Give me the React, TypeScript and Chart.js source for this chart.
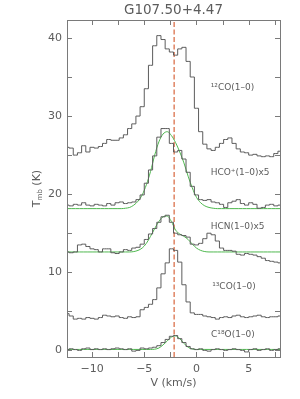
import React, { useEffect, useRef } from "react";
import { Chart, registerables } from "chart.js";
Chart.register(...registerables);

// Velocity channels (km/s)
const V = [-12.4, -12.0, -11.6, -11.2, -10.8, -10.4, -10.0, -9.6, -9.2, -8.8, -8.4, -8.0, -7.6, -7.2, -6.8, -6.4, -6.0, -5.6, -5.2, -4.8, -4.4, -4.0, -3.6, -3.2, -2.8, -2.4, -2.0, -1.6, -1.2, -0.8, -0.4, 0.0, 0.4, 0.8, 1.2, 1.6, 2.0, 2.4, 2.8, 3.2, 3.6, 4.0, 4.4, 4.8, 5.2, 5.6, 6.0, 6.4, 6.8, 7.2, 7.6, 8.0];

const CO12 = [26.0, 25.9, 25.0, 25.3, 26.2, 25.4, 26.0, 25.9, 26.1, 26.5, 27.0, 26.9, 26.9, 27.2, 27.6, 28.4, 29.0, 30.0, 31.2, 33.5, 36.5, 39.0, 40.3, 39.8, 38.6, 38.2, 37.8, 38.6, 38.8, 37.0, 35.0, 31.0, 28.0, 26.4, 25.8, 25.6, 26.0, 26.5, 27.0, 27.2, 26.5, 25.8, 25.4, 25.3, 25.0, 25.1, 24.9, 24.8, 24.9, 24.8, 25.2, 25.5];

const HCOP = [18.6, 18.5, 18.7, 18.6, 18.9, 18.6, 18.5, 18.7, 18.6, 18.5, 18.8, 18.6, 18.9, 19.0, 18.8, 18.9, 19.0, 19.3, 19.9, 21.4, 23.1, 24.9, 27.3, 28.4, 28.4, 26.5, 25.4, 25.6, 24.5, 22.8, 21.0, 19.9, 19.3, 19.2, 19.3, 19.0, 18.9, 18.7, 18.3, 18.9, 19.1, 19.3, 18.8, 18.6, 18.9, 18.7, 18.2, 18.3, 18.6, 18.7, 18.5, 18.6];

const HCOP_FIT = [18.15, 18.15, 18.15, 18.15, 18.15, 18.15, 18.15, 18.15, 18.15, 18.15, 18.15, 18.15, 18.15, 18.15, 18.2, 18.3, 18.6, 19.1, 19.9, 21.2, 22.9, 25.0, 26.7, 27.7, 28.0, 27.5, 26.6, 25.4, 24.0, 22.3, 20.8, 19.6, 18.9, 18.5, 18.3, 18.2, 18.15, 18.15, 18.15, 18.15, 18.15, 18.15, 18.15, 18.15, 18.15, 18.15, 18.15, 18.15, 18.15, 18.15, 18.15, 18.15];

const HCN = [12.6, 12.5, 12.6, 13.5, 13.6, 13.3, 13.0, 12.9, 12.6, 13.0, 13.0, 12.5, 12.4, 12.6, 12.9, 12.8, 13.1, 13.2, 13.6, 14.2, 14.9, 15.6, 16.4, 17.1, 17.3, 16.4, 15.0, 14.8, 14.7, 14.5, 13.6, 13.5, 13.7, 14.3, 15.0, 14.8, 14.0, 13.1, 12.8, 12.8, 12.7, 12.3, 12.2, 12.4, 12.3, 12.2, 12.0, 11.8, 11.5, 11.4, 11.3, 11.2];

const HCN_FIT = [12.6, 12.6, 12.6, 12.6, 12.6, 12.6, 12.6, 12.6, 12.6, 12.6, 12.6, 12.6, 12.6, 12.6, 12.6, 12.6, 12.65, 12.8, 13.1, 13.7, 14.6, 15.6, 16.5, 17.1, 17.2, 16.5, 15.4, 14.9, 14.6, 14.2, 13.6, 13.1, 12.8, 12.65, 12.6, 12.6, 12.6, 12.6, 12.6, 12.6, 12.6, 12.6, 12.6, 12.6, 12.6, 12.6, 12.6, 12.6, 12.6, 12.6, 12.6, 12.6];

const CO13 = [4.7, 4.4, 4.0, 4.1, 4.0, 4.2, 4.1, 4.0, 4.2, 4.5, 4.4, 4.3, 4.4, 4.2, 4.1, 4.3, 4.2, 4.3, 5.2, 5.5, 5.9, 6.5, 8.0, 9.8, 11.2, 13.0, 12.8, 11.3, 8.4, 6.2, 4.8, 4.6, 4.6, 4.4, 4.3, 4.2, 4.0, 4.2, 4.3, 4.2, 4.4, 4.5, 4.3, 4.2, 4.3, 4.4, 4.5, 4.3, 4.2, 4.3, 4.3, 4.4];

const C18O = [0.1, 0.2, 0.1, 0.0, 0.2, 0.3, 0.1, 0.2, 0.1, 0.2, 0.1, 0.2, 0.3, 0.2, 0.1, 0.2, -0.1, 0.0, 0.3, 0.2, 0.3, 0.4, 0.6, 1.0, 1.4, 1.8, 1.9, 1.5, 1.0, 0.5, 0.2, 0.1, 0.2, 0.0, -0.1, 0.1, 0.2, 0.1, 0.0, 0.1, 0.2, 0.1, 0.0, -0.2, 0.1, 0.2, 0.0, 0.1, 0.2, 0.0, 0.1, 0.2];

const C18O_FIT = [0.12, 0.12, 0.12, 0.12, 0.12, 0.12, 0.12, 0.12, 0.12, 0.12, 0.12, 0.12, 0.12, 0.12, 0.12, 0.12, 0.12, 0.12, 0.12, 0.12, 0.12, 0.15, 0.3, 0.7, 1.2, 1.7, 1.85, 1.5, 0.9, 0.4, 0.18, 0.12, 0.12, 0.12, 0.12, 0.12, 0.12, 0.12, 0.12, 0.12, 0.12, 0.12, 0.12, 0.12, 0.12, 0.12, 0.12, 0.12, 0.12, 0.12, 0.12, 0.12];

const VLSR = -2.14;
const X_TICKS = [-10, -5, 0, 5];
const Y_TICKS = [0, 10, 20, 30, 40];
const X_MINOR = [-10, -7.5, -5, -2.5, 0, 2.5, 5, 7.5];
const Y_MINOR = [0, 5, 10, 15, 20, 25, 30, 35, 40];

const LINE_LABELS = ["¹²CO(1–0)", "HCO⁺(1–0)x5", "HCN(1–0)x5", "¹³CO(1–0)", "C¹⁸O(1–0)"];
const LABEL_V = [1.36, 1.36, 1.36, 1.5, 1.4];
const LABEL_T = [33.6, 22.7, 15.9, 8.1, 2.05];

const TITLE = "G107.50+4.47";
const XLABEL = "V (km/s)";

export default function App() {
  const ref = useRef<HTMLCanvasElement>(null);
  useEffect(() => {
    document.body.style.margin = "0";
    const canvas = ref.current!;
    const gray = "#5c5c5c";
    const frameGray = "#7a7a7a";
    const green = "#4fb84f";
    const font = "DejaVu Sans";
    const pts = (ys: number[]) => V.map((v, i) => ({ x: v, y: ys[i] }));
    const dataDs = (ys: number[]) => ({
      data: pts(ys), borderColor: gray, borderWidth: 1, pointRadius: 0, stepped: "middle" as const, fill: false,
    });
    const fitDs = (ys: number[]) => ({
      data: pts(ys), borderColor: green, borderWidth: 1, pointRadius: 0, cubicInterpolationMode: "monotone" as const, fill: false,
    });

    const frame = {
      id: "frame",
      afterDatasetsDraw(chart: any) {
        const c = chart.ctx;
        const a = chart.chartArea;
        const xs = chart.scales.x;
        const ys = chart.scales.y;
        c.save();
        c.strokeStyle = frameGray;
        c.lineWidth = 1;
        c.strokeRect(Math.round(a.left) + 0.5, Math.round(a.top) + 0.5, Math.round(a.right - a.left), Math.round(a.bottom - a.top));
        const tl = 5;
        c.beginPath();
        X_MINOR.forEach((v) => {
          const px = Math.round(xs.getPixelForValue(v)) + 0.5;
          c.moveTo(px, a.bottom); c.lineTo(px, a.bottom - tl);
          c.moveTo(px, a.top); c.lineTo(px, a.top + tl);
        });
        Y_MINOR.forEach((t) => {
          const py = Math.round(ys.getPixelForValue(t)) + 0.5;
          c.moveTo(a.left, py); c.lineTo(a.left + tl, py);
          c.moveTo(a.right, py); c.lineTo(a.right - tl, py);
        });
        c.stroke();
        // title centred over plot area
        c.fillStyle = gray;
        c.textAlign = "center";
        c.textBaseline = "middle";
        c.font = `13.5px "${font}"`;
        c.fillText(TITLE, (a.left + a.right) / 2, a.top / 2);
        // line labels
        c.font = `9px "${font}"`;
        c.textAlign = "left";
        LINE_LABELS.forEach((s, i) => {
          c.fillText(s, xs.getPixelForValue(LABEL_V[i]), ys.getPixelForValue(LABEL_T[i]));
        });
        // y axis title T_mb (K)
        c.translate(36, (a.top + a.bottom) / 2);
        c.rotate(-Math.PI / 2);
        const big = `11px "${font}"`;
        const small = `7px "${font}"`;
        c.font = big; const wT = c.measureText("T").width; const wK = c.measureText(" (K)").width;
        c.font = small; const wmb = c.measureText("mb").width;
        const total = wT + wmb + wK;
        let x0 = -total / 2;
        c.textBaseline = "alphabetic";
        c.font = big; c.fillText("T", x0, 4); x0 += wT;
        c.font = small; c.fillText("mb", x0, 6); x0 += wmb;
        c.font = big; c.fillText(" (K)", x0, 4);
        c.restore();
      },
    };

    const fmt = (v: any) => (Number(v) < 0 ? "−" + Math.abs(Number(v)) : String(v));

    const chart = new Chart(canvas, {
      type: "line",
      data: {
        datasets: [
          dataDs(CO12),
          dataDs(HCOP),
          fitDs(HCOP_FIT),
          dataDs(HCN),
          fitDs(HCN_FIT),
          dataDs(CO13),
          dataDs(C18O),
          fitDs(C18O_FIT),
          {
            data: [{ x: VLSR, y: -0.85 }, { x: VLSR, y: 42.3 }],
            borderColor: "#d8643c", borderWidth: 1.2, borderDash: [5, 2.5], pointRadius: 0, fill: false,
          },
        ] as any,
      },
      options: {
        responsive: false,
        animation: false,
        events: [],
        layout: { padding: { left: 0, right: 20, top: 20, bottom: 0 } },
        plugins: {
          legend: { display: false },
          tooltip: { enabled: false },
          title: { display: false },
        },
        scales: {
          x: {
            type: "linear", min: -12.4, max: 8,
            grid: { display: false, drawTicks: false },
            border: { display: false },
            afterBuildTicks: (s: any) => { s.ticks = X_TICKS.map((v) => ({ value: v })); },
            afterFit: (s: any) => { s.height = 42; },
            ticks: { color: gray, font: { family: font, size: 11 }, padding: 6, maxRotation: 0, autoSkip: false, callback: fmt },
            title: { display: true, text: XLABEL, color: gray, font: { family: font, size: 11 }, padding: { top: 0, bottom: 9 } },
          },
          y: {
            type: "linear", min: -0.85, max: 42.3,
            grid: { display: false, drawTicks: false },
            border: { display: false },
            afterBuildTicks: (s: any) => { s.ticks = Y_TICKS.map((v) => ({ value: v })); },
            afterFit: (s: any) => { s.width = 67; },
            ticks: { color: gray, font: { family: font, size: 11 }, padding: 5, autoSkip: false, callback: fmt },
          },
        },
      } as any,
      plugins: [frame],
    });
    return () => chart.destroy();
  }, []);
  return <canvas ref={ref} width={300} height={399} style={{ display: "block" }} />;
}
